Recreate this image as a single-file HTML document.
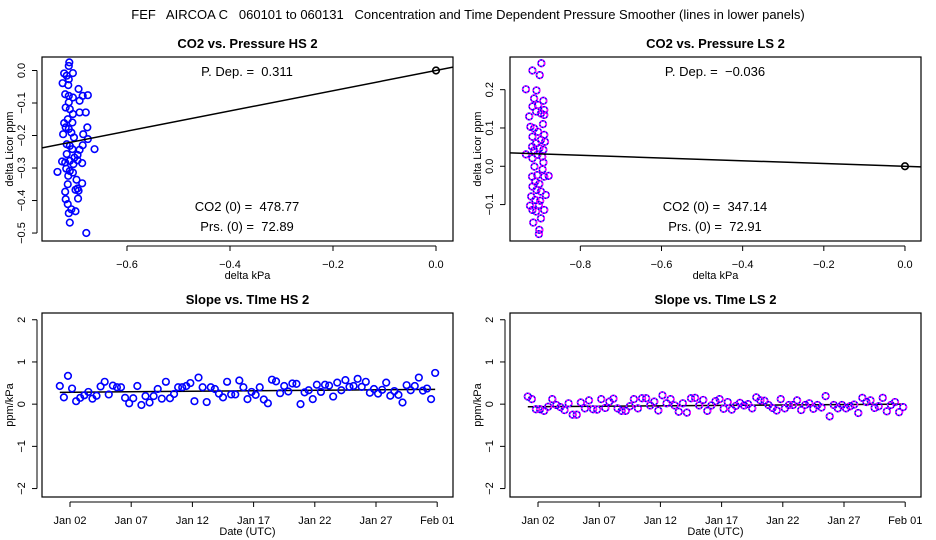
<!DOCTYPE html>
<html><head><meta charset="utf-8"><style>
body{margin:0;background:#fff;}
svg{display:block;font-family:"Liberation Sans",sans-serif;}
svg text{white-space:pre;}
</style></head><body>
<svg id="c" width="936" height="540" xmlns="http://www.w3.org/2000/svg">
<text x="468" y="19" text-anchor="middle" font-size="13" xml:space="preserve">FEF   AIRCOA C   060101 to 060131   Concentration and Time Dependent Pressure Smoother (lines in lower panels)</text>
</svg>
<script>
// ---- data ----
const hsPdepX = [-0.712,-0.713,-0.722,-0.705,-0.717,-0.713,-0.725,-0.714,-0.694,-0.72,-0.713,-0.705,-0.686,-0.676,-0.692,-0.713,-0.719,-0.711,-0.705,-0.692,-0.68,-0.715,-0.722,-0.706,-0.677,-0.719,-0.713,-0.724,-0.708,-0.685,-0.703,-0.676,-0.717,-0.711,-0.686,-0.663,-0.706,-0.692,-0.717,-0.696,-0.702,-0.726,-0.711,-0.696,-0.72,-0.704,-0.687,-0.718,-0.711,-0.735,-0.705,-0.714,-0.698,-0.687,-0.715,-0.696,-0.7,-0.694,-0.72,-0.695,-0.719,-0.715,-0.708,-0.7,-0.713,-0.711,-0.679];
const hsPdepY = [0.025,0.014,-0.009,-0.008,-0.016,-0.027,-0.039,-0.045,-0.057,-0.073,-0.078,-0.083,-0.078,-0.076,-0.093,-0.098,-0.114,-0.119,-0.134,-0.129,-0.129,-0.15,-0.162,-0.16,-0.175,-0.175,-0.18,-0.196,-0.191,-0.196,-0.206,-0.211,-0.227,-0.232,-0.23,-0.242,-0.242,-0.244,-0.257,-0.26,-0.268,-0.28,-0.278,-0.276,-0.283,-0.288,-0.285,-0.302,-0.309,-0.312,-0.314,-0.324,-0.336,-0.347,-0.35,-0.363,-0.367,-0.37,-0.373,-0.394,-0.396,-0.411,-0.427,-0.433,-0.439,-0.468,-0.5];
const hsSlope = 0.311;
const lsPdepX = [-0.896,-0.918,-0.9,-0.934,-0.908,-0.891,-0.914,-0.904,-0.918,-0.889,-0.909,-0.897,-0.889,-0.926,-0.892,-0.923,-0.914,-0.904,-0.889,-0.918,-0.897,-0.887,-0.909,-0.919,-0.901,-0.891,-0.914,-0.934,-0.906,-0.894,-0.918,-0.891,-0.913,-0.893,-0.878,-0.906,-0.919,-0.889,-0.911,-0.901,-0.918,-0.908,-0.897,-0.885,-0.921,-0.911,-0.899,-0.924,-0.902,-0.918,-0.889,-0.909,-0.897,-0.916,-0.901,-0.902];
const lsPdepY = [0.269,0.25,0.238,0.201,0.198,0.171,0.177,0.16,0.156,0.147,0.143,0.138,0.134,0.13,0.11,0.103,0.099,0.09,0.082,0.077,0.069,0.064,0.06,0.051,0.047,0.043,0.041,0.031,0.03,0.025,0.021,0.01,-0.001,-0.008,-0.025,-0.023,-0.027,-0.027,-0.04,-0.046,-0.053,-0.062,-0.066,-0.075,-0.079,-0.088,-0.09,-0.103,-0.101,-0.114,-0.114,-0.118,-0.136,-0.147,-0.166,-0.177];
const lsSlope = -0.036;
const hsSlopeTime = [0.43,0.16,0.67,0.37,0.07,0.15,0.21,0.29,0.13,0.2,0.42,0.53,0.23,0.44,0.4,0.4,0.15,0.02,0.14,0.43,-0.02,0.19,0.04,0.19,0.36,0.13,0.53,0.14,0.24,0.4,0.4,0.43,0.5,0.07,0.63,0.4,0.05,0.4,0.36,0.25,0.16,0.53,0.23,0.23,0.56,0.4,0.12,0.29,0.22,0.4,0.11,0.02,0.58,0.54,0.26,0.43,0.3,0.49,0.48,0,0.28,0.33,0.12,0.46,0.29,0.46,0.44,0.18,0.51,0.33,0.57,0.41,0.43,0.6,0.41,0.53,0.27,0.36,0.25,0.34,0.51,0.2,0.31,0.22,0.04,0.45,0.33,0.43,0.63,0.32,0.37,0.12,0.74];
const lsSlopeTime = [0.18,0.12,-0.12,-0.12,-0.16,-0.06,0.12,-0.02,-0.07,-0.14,0.02,-0.25,-0.25,0.04,-0.1,0.09,-0.12,-0.13,0.12,-0.09,0.06,0.13,-0.1,-0.16,-0.16,-0.05,0.12,-0.1,0.14,0.14,-0.03,0.06,-0.15,0.21,0.02,0.12,-0.03,-0.18,0.02,-0.2,0.14,0.15,-0.03,0.1,-0.16,-0.03,0.07,0.12,-0.11,0.05,-0.13,-0.04,0.03,-0.03,0,-0.1,0.16,0.09,0.08,-0.02,-0.09,-0.15,0.12,-0.1,-0.02,-0.02,0.09,-0.14,-0.02,0.02,-0.11,-0.02,-0.08,0.19,-0.29,-0.02,-0.1,-0.02,-0.1,-0.05,-0.01,-0.21,0.15,0.05,0.09,-0.09,-0.05,0.15,-0.17,-0.02,0.05,-0.19,-0.07];
const hsSmooth = [0.28,0.35];
const lsSmooth = [-0.06,0.0];
const dateTicks = [2,7,12,17,22,27,32];
const dateLabels = ["Jan 02","Jan 07","Jan 12","Jan 17","Jan 22","Jan 27","Feb 01"];
const slopeTicks = [-2,-1,0,1,2];
const startDay = 1.167;

const svg = document.getElementById('c');
const NS = 'http://www.w3.org/2000/svg';
function mk(tag, attrs, parent){
  const e = document.createElementNS(NS, tag);
  for (const k in attrs) e.setAttribute(k, attrs[k]);
  (parent||svg).appendChild(e);
  return e;
}
function txt(x,y,s,size,anchor,parent,rot){
  const t = mk('text',{x:x,y:y,'font-size':size,'text-anchor':anchor||'middle'},parent);
  if (rot) t.setAttribute('transform','rotate(-90 '+x+' '+y+')');
  t.textContent = s;
  return t;
}
function panel(o){
  const g = mk('g',{});
  
  
  const sx = v => o.x0 + (v - o.xd[0])/(o.xd[1]-o.xd[0])*(o.x1-o.x0);
  const sy = v => o.y1 - (v - o.yd[0])/(o.yd[1]-o.yd[0])*(o.y1-o.y0);
  const box = mk('rect',{x:o.x0,y:o.y0,width:o.x1-o.x0,height:o.y1-o.y0,fill:'none',stroke:'#000','stroke-width':1.2},g);
  
  
  const t = txt((o.x0+o.x1)/2, o.y0-9, o.title, 13, 'middle', g);
  t.setAttribute('font-weight','bold');
  
  
  const xa = mk('g',{},g);
  
  
  const xs = o.xt.map(sx);
  mk('line',{x1:xs[0],x2:xs[xs.length-1],y1:o.y1+5,y2:o.y1+5,stroke:'#000'},xa);
  o.xt.forEach((v,i)=>{
    mk('line',{x1:sx(v),x2:sx(v),y1:o.y1+5,y2:o.y1+10,stroke:'#000'},xa);
    txt(sx(v), o.y1+27, o.xl[i], 11, 'middle', xa);
  });
  const xt = txt((o.x0+o.x1)/2, o.y1+38, o.xlab, 11, 'middle', g);
  
  
  const ya = mk('g',{},g);
  
  
  const ys = o.yt.map(sy);
  mk('line',{x1:o.x0-5,x2:o.x0-5,y1:ys[0],y2:ys[ys.length-1],stroke:'#000'},ya);
  o.yt.forEach((v,i)=>{
    mk('line',{x1:o.x0-10,x2:o.x0-5,y1:sy(v),y2:sy(v),stroke:'#000'},ya);
    txt(o.x0-17, sy(v), o.yl[i], 11, 'middle', ya, true);
  });
  const yt = txt(o.x0-29, (o.y0+o.y1)/2, o.ylab, 11, 'middle', g, true);
  
  
  const clip = mk('clipPath',{id:'cl'+o.name},g);
  mk('rect',{x:o.x0,y:o.y0,width:o.x1-o.x0,height:o.y1-o.y0},clip);
  const pg = mk('g',{'clip-path':'url(#cl'+o.name+')'},g);
  
  
  return {g, pg, sx, sy};
}
function pt(pg, x, y, magenta){
  const c = mk('circle',{cx:x,cy:y,r:3.3,fill:'none',stroke:'#0000ff','stroke-width':1.6},pg);
  
  
  if (magenta) mk('circle',{cx:x,cy:y,r:3.3,fill:'none',stroke:'#ff00ff','stroke-width':1.6,'stroke-dasharray':'1.6 1.6'},pg);
}

let p = panel({name:'co2-pressure-hs-panel',title:'CO2 vs. Pressure HS 2',x0:42,x1:453,y0:57,y1:241,
  xd:[-0.7650,0.0330],yd:[-0.5245,0.0415],xt:[-0.6,-0.4,-0.2,0],xl:['\u22120.6','\u22120.4','\u22120.2','0.0'],
  yt:[-0.5,-0.4,-0.3,-0.2,-0.1,0],yl:['\u22120.5','\u22120.4','\u22120.3','\u22120.2','\u22120.1','0.0'],xlab:'delta kPa',ylab:'delta Licor ppm'});
hsPdepX.forEach((v,i)=>pt(p.pg,p.sx(v),p.sy(hsPdepY[i]),false));
let l = mk('line',{x1:p.sx(-0.765),y1:p.sy(-0.765*hsSlope),x2:p.sx(0.033),y2:p.sy(0.033*hsSlope),stroke:'#000','stroke-width':1.5},p.pg);
 
mk('circle',{cx:p.sx(0),cy:p.sy(0),r:3.3,fill:'none',stroke:'#000','stroke-width':1.6},p.pg);
txt(247,76,'P. Dep. =  0.311',13,'middle',p.g);
txt(247,211,'CO2 (0) =  478.77',13,'middle',p.g);
txt(247,231,'Prs. (0) =  72.89',13,'middle',p.g);

p = panel({name:'co2-pressure-ls-panel',title:'CO2 vs. Pressure LS 2',x0:510,x1:921,y0:57,y1:241,
  xd:[-0.9733,0.0395],yd:[-0.1951,0.2853],xt:[-0.8,-0.6,-0.4,-0.2,0],xl:['\u22120.8','\u22120.6','\u22120.4','\u22120.2','0.0'],
  yt:[-0.1,0,0.1,0.2],yl:['\u22120.1','0.0','0.1','0.2'],xlab:'delta kPa',ylab:'delta Licor ppm'});
lsPdepX.forEach((v,i)=>pt(p.pg,p.sx(v),p.sy(lsPdepY[i]),true));
l = mk('line',{x1:p.sx(-0.975),y1:p.sy(-0.975*lsSlope),x2:p.sx(0.04),y2:p.sy(0.04*lsSlope),stroke:'#000','stroke-width':1.5},p.pg);
 
mk('circle',{cx:p.sx(0),cy:p.sy(0),r:3.3,fill:'none',stroke:'#000','stroke-width':1.6},p.pg);
txt(715,76,'P. Dep. =  \u22120.036',13,'middle',p.g);
txt(715,211,'CO2 (0) =  347.14',13,'middle',p.g);
txt(715,231,'Prs. (0) =  72.91',13,'middle',p.g);

function slopePanel(name,title,x0,x1,vals,smooth,mag){
  const q = panel({name:name,title:title,x0:x0,x1:x1,y0:313,y1:497,
    xd:[2-28/12.24,2+(453-70)/12.24],yd:[-2.2,2.16],xt:dateTicks,xl:dateLabels,
    yt:slopeTicks,yl:['\u22122','\u22121','0','1','2'],xlab:'Date (UTC)',ylab:'ppm/kPa'});
  const d0 = startDay, d1 = startDay + (vals.length-1)/3;
  const s = mk('line',{x1:q.sx(d0),y1:q.sy(smooth[0]),x2:q.sx(d1),y2:q.sy(smooth[1]),stroke:'#000','stroke-width':1.5},q.pg);
   
  vals.forEach((v,i)=>pt(q.pg,q.sx(startDay+i/3),q.sy(v),mag));
}
slopePanel('slope-time-hs-panel','Slope vs. TIme HS 2',42,453,hsSlopeTime,hsSmooth,false);
slopePanel('slope-time-ls-panel','Slope vs. TIme LS 2',510,921,lsSlopeTime,lsSmooth,true);
</script>
</body></html>
